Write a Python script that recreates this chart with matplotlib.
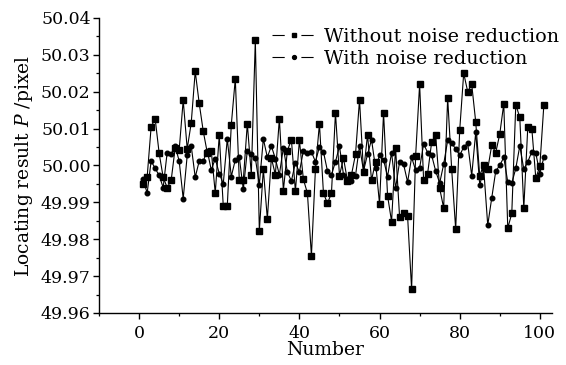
import matplotlib
matplotlib.use("Agg")
import matplotlib.pyplot as plt
from matplotlib.ticker import MultipleLocator
from matplotlib.lines import Line2D

number = list(range(1, 102))

without_nr = [
    49.9950, 49.9968, 50.0105, 50.0127, 50.0033, 49.9968, 49.9940, 49.9960, 50.0048, 50.0042,
    50.0177, 50.0045, 50.0115, 50.0255, 50.0168, 50.0093, 50.0035, 50.0040, 49.9925, 50.0082,
    49.9890, 49.9890, 50.0110, 50.0235, 49.9960, 49.9960, 50.0113, 49.9975, 50.0340, 49.9823,
    49.9990, 49.9855, 50.0020, 49.9975, 50.0127, 49.9932, 50.0040, 50.0070, 49.9930, 50.0068,
    49.9962, 49.9925, 49.9755, 49.9990, 50.0113, 49.9925, 49.9897, 49.9925, 50.0143, 49.9972,
    50.0020, 49.9958, 49.9975, 50.0030, 50.0178, 49.9982, 50.0083, 49.9960, 50.0010, 49.9895,
    50.0143, 49.9918, 49.9848, 50.0048, 49.9860, 49.9872, 49.9862, 49.9665, 50.0025, 50.0220,
    49.9960, 49.9978, 50.0063, 50.0083, 49.9938, 49.9885, 50.0183, 49.9990, 49.9827, 50.0095,
    50.0250, 50.0200, 50.0220, 50.0118, 49.9972, 50.0002, 49.9990, 50.0055, 50.0035, 50.0085,
    50.0167, 49.9830, 49.9870, 50.0165, 50.0130, 49.9884, 50.0105, 50.0100, 49.9965, 49.9998,
    50.0163,
]

with_nr = [
    49.9963, 49.9925, 50.0012, 49.9992, 49.9973, 49.9940, 50.0035, 50.0030, 50.0052, 50.0012,
    49.9910, 50.0027, 50.0053, 49.9968, 50.0012, 50.0012, 50.0040, 49.9988, 50.0018, 49.9978,
    49.9950, 50.0072, 49.9970, 50.0015, 50.0022, 49.9935, 50.0040, 50.0032, 50.0020, 49.9948,
    50.0072, 50.0022, 50.0053, 50.0018, 49.9975, 50.0048, 49.9982, 49.9958, 50.0007, 49.9982,
    50.0040, 50.0033, 50.0037, 50.0010, 50.0050, 50.0037, 49.9985, 49.9975, 50.0010, 50.0052,
    49.9975, 49.9962, 49.9957, 49.9972, 50.0053, 49.9985, 50.0030, 50.0070, 49.9993, 50.0028,
    50.0015, 49.9970, 50.0035, 49.9938, 50.0010, 50.0003, 49.9955, 50.0022, 49.9987, 49.9993,
    50.0058, 50.0035, 50.0028, 49.9985, 49.9952, 50.0003, 50.0068, 50.0060, 50.0045, 50.0027,
    50.0050, 50.0060, 49.9972, 50.0090, 49.9947, 49.9990, 49.9838, 49.9912, 49.9985, 50.0000,
    50.0022, 49.9955, 49.9952, 49.9992, 50.0053, 49.9990, 50.0010, 50.0037, 50.0033, 49.9978,
    50.0022,
]

series_labels = ['Without noise reduction', 'With noise reduction']
y_ticks = [49.96, 49.97, 49.98, 49.99, 50.00, 50.01, 50.02, 50.03, 50.04]
x_ticks = [0, 20, 40, 60, 80, 100]

plt.rcParams['font.family'] = ['DejaVu Serif']
plt.rcParams['mathtext.fontset'] = 'dejavuserif'

fig = plt.figure(figsize=(5.66, 3.65), dpi=100)
ax = fig.add_axes([0.175, 0.1425, 0.80, 0.8085])

ax.plot(number, without_nr, color='black', lw=0.8, marker='s', ms=3.8)
ax.plot(number, with_nr, color='black', lw=0.8, marker='o', ms=3.3)

ax.set_xlim(-10, 103)
ax.set_ylim(49.96, 50.04)
ax.set_xticks(x_ticks)
ax.set_yticks(y_ticks)
ax.set_yticklabels([f"{v:.2f}" for v in y_ticks])
ax.xaxis.set_minor_locator(MultipleLocator(10))
ax.yaxis.set_minor_locator(MultipleLocator(0.005))
ax.tick_params(which='major', direction='out', length=4, width=1.0, labelsize=12.5)
ax.tick_params(axis='x', which='major', pad=5)
ax.tick_params(axis='y', which='major', pad=2)
ax.tick_params(which='minor', direction='out', length=2.5, width=0.9)
for s in ('top', 'right'):
    ax.spines[s].set_visible(False)
for s in ('left', 'bottom'):
    ax.spines[s].set_linewidth(1.0)

ax.set_xlabel('Number', fontsize=13.5, labelpad=-1)
ax.set_ylabel('Locating result $P$ /pixel', fontsize=13.5, labelpad=4)

handles = [
    Line2D([], [], color='black', lw=0.8, marker='s', ms=3.4, dashes=(11, 15)),
    Line2D([], [], color='black', lw=0.8, marker='o', ms=2.8, dashes=(11, 15)),
]
ax.legend(handles, series_labels, loc='upper right', bbox_to_anchor=(1.045, 1.012),
          frameon=False, fontsize=13.8, handlelength=2.3, handletextpad=0.4,
          labelspacing=0.2, borderpad=0.2, numpoints=1)

fig.savefig('out.png', dpi=100)
